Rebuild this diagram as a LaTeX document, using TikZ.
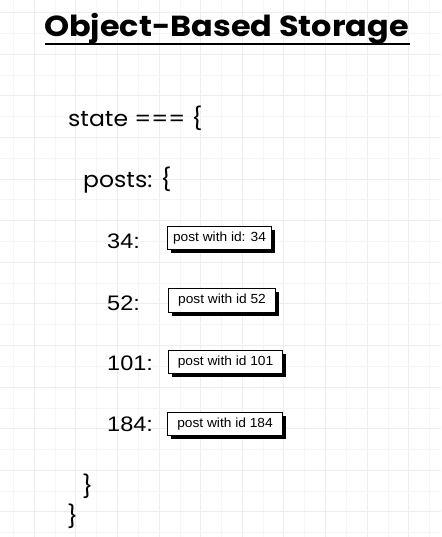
\documentclass[tikz,border=0pt]{standalone}
\usepackage{fontspec}
\newfontfamily\titlefont[FakeStretch=1.1]{Poppins}
\newfontfamily\codefont[FakeStretch=1.07]{Poppins}
\newfontfamily\keyfont[FakeStretch=1.12]{Liberation Sans}
\newfontfamily\boxfont[FakeStretch=1.04]{Liberation Sans}
\begin{document}
\begin{tikzpicture}[x=1pt,y=-1pt,
  gridmajor/.style={draw=black!7,line width=1pt},
  gridminor/.style={draw=black!4,line width=0.8pt},
  code/.style={anchor=base west,inner sep=0pt,font=\codefont\fontsize{22}{24}\selectfont},
  key/.style={anchor=base west,inner sep=0pt,font=\keyfont\fontsize{21}{24}\selectfont},
  postbox/.style={draw=black,line width=1pt,fill=white,anchor=north west,inner sep=0pt,
    font=\boxfont\fontsize{13.2}{15}\selectfont,align=center}
]
\useasboundingbox (0,0) rectangle (441,537);
\fill[white] (0,0) rectangle (441,537);
% grid
\foreach \k in {0,...,20}{
  \pgfmathtruncatemacro{\odd}{mod(\k,2)}
  \ifnum\odd=1
    \draw[gridmajor] ({13.5+20.8*\k},0) -- ({13.5+20.8*\k},537);
  \else
    \draw[gridminor] ({13.5+20.8*\k},0) -- ({13.5+20.8*\k},537);
  \fi
}
\foreach \k in {0,...,25}{
  \pgfmathtruncatemacro{\odd}{mod(\k,2)}
  \ifnum\odd=0
    \draw[gridmajor] (0,{12.7+20.8*\k}) -- (441,{12.7+20.8*\k});
  \else
    \draw[gridminor] (0,{12.7+20.8*\k}) -- (441,{12.7+20.8*\k});
  \fi
}
% title
\node[anchor=base west,inner sep=0pt,font=\titlefont\bfseries\fontsize{29}{32}\selectfont] (title) at (44,37) {Object-Based Storage};
\draw[line width=2pt] (45,44) -- (410,44);
% code
\node[code] (state) at (68,127) {state === \{};
\node[code] (posts) at (83,188) {posts: \{};
\node[key] (k34) at (107,248) {34:};
\node[key] (k52) at (107,310) {52:};
\node[key] (k101) at (107,370) {101:};
\node[key] (k184) at (107,431) {184:};
% boxes
\foreach \n/\x/\y/\w/\h/\t in {b34/167/226/104/23/{post with id: 34},b52/168/288/107/24/{post with id 52},b101/168/350/114/23/{post with id 101},b184/167/412/115/23/{post with id 184}}{
  \fill[black] (\x+3.5,\y+3.5) rectangle (\x+\w+3.5,\y+\h+3.5);
  \node[postbox,minimum width=\w pt,minimum height=\h pt] (\n) at (\x,\y) {\t};
}
\node[code] (cb1) at (82,494) {\}};
\node[code] (cb2) at (67,524) {\}};
\end{tikzpicture}
\end{document}
